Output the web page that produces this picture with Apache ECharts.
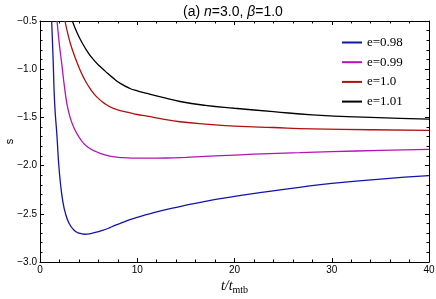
<!DOCTYPE html>
<html>
<head>
<meta charset="utf-8">
<script src="https://cdn.jsdelivr.net/npm/echarts@6/dist/echarts.min.js"></script>
<style>html,body{margin:0;padding:0;background:#fff}#c{width:436px;height:299px}</style>
</head>
<body>
<div id="c"></div>
<script>
const xTicks = [0, 10, 20, 30, 40];
const yTicks = [-3.0, -2.5, -2.0, -1.5, -1.0, -0.5];
const seriesNames = ['e=0.98', 'e=0.99', 'e=1.0', 'e=1.01'];
const e098 = [[1.2,-0.5],[1.35,-0.9],[1.51,-1.36],[1.75,-1.7],[1.92,-1.98],[2.1,-2.18],[2.33,-2.36],[2.6,-2.49],[3.0,-2.6],[3.5,-2.67],[4.0,-2.70],[4.6,-2.712],[5.2,-2.705],[5.8,-2.69],[6.5,-2.67],[7.2,-2.643],[7.7,-2.62],[8.5,-2.59],[9.25,-2.56],[10,-2.537],[12,-2.48],[14.4,-2.425],[17,-2.37],[20,-2.32],[23,-2.275],[26.7,-2.225],[30,-2.185],[35,-2.14],[40,-2.105]];
const e099 = [[1.75,-0.5],[2.0,-0.75],[2.23,-0.94],[2.5,-1.17],[2.77,-1.36],[3.1,-1.5],[3.5,-1.61],[4.1,-1.717],[4.8,-1.8],[5.8,-1.856],[6.7,-1.89],[7.5,-1.908],[8.5,-1.918],[9.5,-1.922],[11,-1.923],[13,-1.921],[15,-1.914],[18,-1.9],[22,-1.882],[26.7,-1.866],[30,-1.855],[35,-1.843],[40,-1.831]];
const e100 = [[2.57,-0.5],[2.9,-0.65],[3.3,-0.79],[4.0,-0.98],[4.5,-1.09],[5.14,-1.2],[5.83,-1.287],[6.7,-1.36],[7.54,-1.407],[8.5,-1.435],[9.25,-1.452],[10,-1.47],[11,-1.487],[12.5,-1.515],[14.4,-1.545],[17,-1.57],[20,-1.59],[24,-1.605],[28,-1.618],[34,-1.628],[40,-1.635]];
const e101 = [[3.33,-0.5],[3.8,-0.62],[4.3,-0.72],[4.96,-0.83],[5.5,-0.9],[6.1,-0.965],[6.7,-1.02],[7.5,-1.09],[8.3,-1.15],[9.25,-1.20],[10,-1.225],[11,-1.252],[12.5,-1.29],[14.4,-1.335],[17,-1.375],[20,-1.405],[24,-1.44],[28,-1.473],[34,-1.5],[40,-1.518]];
const colors = ['#1414a8', '#b414b4', '#b01010', '#000000'];
const allData = [e098, e099, e100, e101];

const chart = echarts.init(document.getElementById('c'), null, {renderer: 'canvas'});
const axisCommon = {
  axisLine: {show: true, onZero: false, lineStyle: {color: '#000', width: 1}},
  axisTick: {show: true, inside: true, length: 4, lineStyle: {color: '#000'}},
  minorTick: {show: true, splitNumber: 5, length: 2.5, lineStyle: {color: '#000'}},
  splitLine: {show: false}
};
const fmtY = v => v.toFixed(1).replace('-', '\u2212');
const option = {
  animation: false,
  backgroundColor: '#fff',
  title: {
    text: '(a) {i|n}=3.0, {i|β}=1.0',
    left: 178, top: 0,
    textStyle: {fontFamily: 'Liberation Sans', fontSize: 14, fontWeight: 'normal', color: '#000',
      rich: {i: {fontFamily: 'Liberation Sans', fontStyle: 'italic', fontSize: 14, color: '#000'}}}
  },
  grid: {left: 40, right: 7, top: 21, bottom: 37, outerBoundsMode: 'none', containLabel: false},
  legend: {
    left: 342, top: 36, orient: 'vertical', itemWidth: 20, itemHeight: 2, itemGap: 6.7,
    icon: 'rect', padding: 0,
    textStyle: {fontFamily: 'Liberation Serif', fontSize: 13, lineHeight: 13, color: '#000'},
    data: seriesNames
  },
  xAxis: [
    Object.assign({}, axisCommon, {
      type: 'value', min: xTicks[0], max: xTicks[xTicks.length-1], interval: 10, position: 'bottom',
      axisLabel: {fontFamily: 'Liberation Sans', fontSize: 10, color: '#000', margin: 3},
      name: '{i|t}{i|/t}{s|mtb}', nameLocation: 'middle', nameGap: 16, nameMoveOverlap: false,
      nameTextStyle: {fontFamily: 'Liberation Serif', fontSize: 14, color: '#000',
        rich: {i: {fontFamily: 'Liberation Serif', fontStyle: 'italic', fontSize: 14, color: '#000'},
               s: {fontFamily: 'Liberation Serif', fontSize: 10, color: '#000', verticalAlign: 'bottom', padding: [7,0,0,0]}}}
    }),
    Object.assign({}, axisCommon, {
      type: 'value', min: xTicks[0], max: xTicks[xTicks.length-1], interval: 10, position: 'top',
      axisLabel: {show: false}
    })
  ],
  yAxis: [
    Object.assign({}, axisCommon, {
      type: 'value', min: yTicks[0], max: yTicks[yTicks.length-1], interval: 0.5, position: 'left',
      axisLabel: {fontFamily: 'Liberation Sans', fontSize: 10, color: '#000', margin: 3, formatter: fmtY},
      name: 's', nameLocation: 'middle', nameGap: 25, nameRotate: 90, nameMoveOverlap: false,
      nameTextStyle: {fontFamily: 'Liberation Sans', fontSize: 11, color: '#000'}
    }),
    Object.assign({}, axisCommon, {
      type: 'value', min: yTicks[0], max: yTicks[yTicks.length-1], interval: 0.5, position: 'right',
      axisLabel: {show: false}
    })
  ],
  series: seriesNames.map((n, i) => ({
    name: n, type: 'line', data: allData[i], xAxisIndex: 0, yAxisIndex: 0,
    showSymbol: false, symbol: 'none', smooth: 0.5,
    lineStyle: {color: colors[i], width: 1.3}, itemStyle: {color: colors[i]}
  }))
};
chart.setOption(option);
</script>
</body>
</html>
